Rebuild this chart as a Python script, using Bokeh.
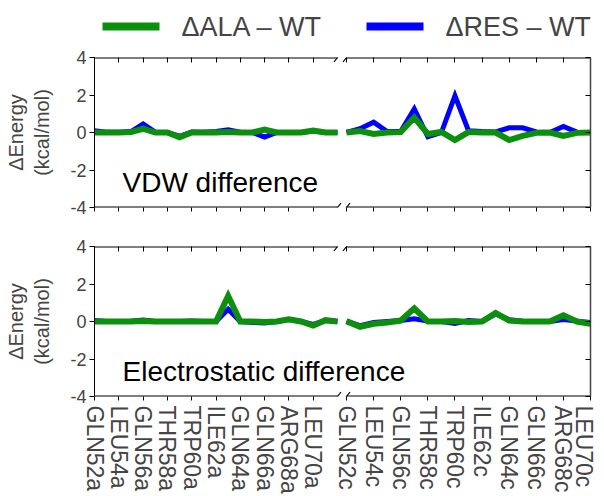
import math
from bokeh.plotting import figure
from bokeh.models import Range1d, LinearAxis, FixedTicker, Label
from bokeh.layouts import column
from bokeh.embed import file_html
from bokeh.resources import INLINE

# ---------------- data ----------------
res_a = list(range(52, 73))   # 52a .. 72a
res_c = list(range(52, 71))   # 52c .. 70c
tick_res = [52, 54, 56, 58, 60, 62, 64, 66, 68, 70]
tick_names = ["GLN52", "LEU54", "GLN56", "THR58", "TRP60",
              "ILE62", "GLN64", "GLN66", "ARG68", "LEU70"]

vdw_ala_a = [0, 0, 0, 0.02, 0.2, 0, 0, -0.25, 0, 0, 0, 0.02, 0, 0, 0.15, 0, 0, 0, 0.1, 0, 0]
vdw_res_a = [0.1, 0.02, 0.02, 0.05, 0.45, 0.02, 0, -0.2, 0.03, 0.02, 0.05, 0.15, 0.02, 0, -0.25, 0, 0, 0, 0.08, 0, 0]
vdw_ala_c = [0, 0.08, -0.08, 0, 0.02, 0.8, -0.08, 0.03, -0.4, 0.02, 0, 0, -0.4, -0.18, -0.02, 0, -0.18, -0.02, 0]
vdw_res_c = [0, 0.2, 0.55, 0.05, 0.05, 1.25, -0.23, 0, 1.96, 0.1, 0.05, 0.03, 0.25, 0.25, 0.03, 0, 0.32, 0.02, 0]

ele_ala_a = [0, 0, 0, 0, 0.02, 0, 0, 0, 0, 0, 0, 1.36, 0, 0, -0.03, 0, 0.12, 0, -0.22, 0.07, 0]
ele_res_a = [0.05, 0, 0, 0.02, 0.08, 0, 0, 0, 0.02, 0, 0, 0.65, 0, -0.05, -0.08, 0, 0.1, 0, -0.15, 0.05, 0]
ele_ala_c = [0.02, -0.28, -0.12, -0.05, 0.05, 0.7, 0, 0, 0.03, -0.02, 0, 0.45, 0.05, 0, 0, 0, 0.33, 0, -0.12]
ele_res_c = [0, -0.22, -0.05, 0, 0.05, 0.15, 0.02, 0, -0.1, 0.05, 0, 0.4, 0.1, 0.02, 0, 0, 0.1, 0.02, -0.05]

y_ticks = [-4, -2, 0, 2, 4]
y_tick_labels = ["-4", "-2", "0", "2", "4"]

series_names = ["ΔALA – WT", "ΔRES – WT"]

# ---------------- layout (broken x axis) ----------------
FONT = "Liberation Sans"
GREEN = "#0c8f0c"
BLUE = "#0000ff"
BORDER_L, BORDER_R = 94, 6
FIG_W = 596
FRAME_W = FIG_W - BORDER_L - BORDER_R       # 496
A_PX = (0, 243)      # pixel span of segment a (52a..72a) in the frame
C_PX = (252, 496)    # pixel span of segment c (52c..70c) in the frame
Y_PX = 18.75         # pixels per y unit (top panel frame 150 px / 8)

a_scale = (A_PX[1] - A_PX[0]) / (res_a[-1] - res_a[0])
a_start = res_a[0] - A_PX[0] / a_scale
a_end = a_start + FRAME_W / a_scale
c_scale = (C_PX[1] - C_PX[0]) / (res_c[-1] - res_c[0])
c_start = res_c[0] - C_PX[0] / c_scale
c_end = c_start + FRAME_W / c_scale


def c_to_a(r):
    return a_start + (r - c_start) * c_scale / a_scale


x_ticks = [float(r) for r in tick_res] + [c_to_a(r) for r in tick_res]
x_labels = [n + "a" for n in tick_names] + [n + "c" for n in tick_names]
overrides = {t: lab for t, lab in zip(x_ticks, x_labels)}
y_overrides = {t: lab for t, lab in zip(y_ticks, y_tick_labels)}


def hidden_label_axis(ticks, tick_in, tick_out, line_color=None, line_width=1):
    return LinearAxis(ticker=FixedTicker(ticks=ticks),
                      major_label_text_font_size="1px",
                      major_label_text_color=None,
                      major_label_standoff=0,
                      major_tick_out=tick_out, major_tick_in=tick_in,
                      axis_line_color=line_color, axis_line_width=line_width,
                      major_tick_line_color="black")


def make_panel(height, b_top, b_bottom, show_xlabels, ala_a, rs_a, ala_c, rs_c, note):
    p = figure(width=FIG_W, height=height,
               x_range=Range1d(a_start, a_end), y_range=Range1d(-4, 4),
               output_backend="svg", toolbar_location=None,
               x_axis_location=None, y_axis_location=None,
               min_border_left=BORDER_L, min_border_right=BORDER_R,
               min_border_top=b_top, min_border_bottom=b_bottom)
    p.extra_x_ranges = {"c": Range1d(c_start, c_end)}
    p.xgrid.visible = False
    p.ygrid.visible = False
    p.outline_line_color = None

    left = LinearAxis(ticker=FixedTicker(ticks=y_ticks),
                      major_label_overrides=y_overrides,
                      axis_label="ΔEnergy\n(kcal/mol)",
                      axis_label_text_font=FONT,
                      axis_label_text_font_size="20px",
                      axis_label_text_font_style="normal",
                      axis_label_standoff=14,
                      major_label_text_font=FONT,
                      major_label_text_font_size="18px",
                      major_tick_out=5, major_tick_in=0,
                      major_label_standoff=3,
                      axis_line_color="black", major_tick_line_color="black")
    p.add_layout(left, "left")
    p.add_layout(hidden_label_axis(y_ticks, 5, 0, "#444444", 1.5), "right")
    p.add_layout(hidden_label_axis(x_ticks, 5, 0), "above")

    if show_xlabels:
        bottom = LinearAxis(ticker=FixedTicker(ticks=x_ticks),
                            major_label_overrides=overrides,
                            major_label_orientation="vertical",
                            major_label_text_font=FONT,
                            major_label_text_font_size="23px",
                            major_tick_out=4, major_tick_in=0,
                            major_label_standoff=5,
                            axis_line_color=None, major_tick_line_color="black")
        p.add_layout(bottom, "below")
    else:
        p.add_layout(hidden_label_axis(x_ticks, 0, 4), "below")

    # broken top / bottom frame lines and the break slashes
    ylim = (-4, 4)
    p.segment(x0=[a_start, a_start], y0=list(ylim), x1=[res_a[-1]] * 2, y1=list(ylim),
              line_color="black", line_width=2)
    p.segment(x0=[res_c[0]] * 2, y0=list(ylim), x1=[c_end] * 2, y1=list(ylim),
              line_color="black", line_width=2, x_range_name="c")
    dy = 4.5 / Y_PX
    dxa, dxc = 3.5 / a_scale, 3.5 / c_scale
    p.segment(x0=[res_a[-1] - dxa] * 2, y0=[ylim[0] - dy, ylim[1] - dy],
              x1=[res_a[-1] + dxa] * 2, y1=[ylim[0] + dy, ylim[1] + dy],
              line_color="black", line_width=1.2)
    p.segment(x0=[res_c[0] - dxc] * 2, y0=[ylim[0] - dy, ylim[1] - dy],
              x1=[res_c[0] + dxc] * 2, y1=[ylim[0] + dy, ylim[1] + dy],
              line_color="black", line_width=1.2, x_range_name="c")

    # data lines
    p.line(res_a, rs_a, line_color=BLUE, line_width=5, line_join="miter")
    p.line(res_a, ala_a, line_color=GREEN, line_width=6, line_join="miter")
    p.line(res_c, rs_c, line_color=BLUE, line_width=5, line_join="miter", x_range_name="c")
    p.line(res_c, ala_c, line_color=GREEN, line_width=6, line_join="miter", x_range_name="c")

    # panel note
    p.add_layout(Label(x=a_start + 28 / a_scale, y=-2.65, text=note,
                       text_font=FONT, text_font_size="28px",
                       text_color="black", text_baseline="alphabetic"))
    return p


# legend strip (its frame is aligned with the panel frames; units = frame pixels)
LG_H = 45
lg = figure(width=FIG_W, height=LG_H, x_range=Range1d(0, FRAME_W), y_range=Range1d(0, LG_H),
            output_backend="svg", toolbar_location=None,
            x_axis_location=None, y_axis_location=None,
            min_border_left=BORDER_L, min_border_right=BORDER_R,
            min_border_top=0, min_border_bottom=0)
lg.xgrid.visible = False
lg.ygrid.visible = False
lg.outline_line_color = None
swatch_x0 = [8, 272]
swatch_len = 57
text_gap = 22
swatch_y = LG_H - 26
for x0, col, name in zip(swatch_x0, [GREEN, BLUE], series_names):
    lg.line([x0, x0 + swatch_len], [swatch_y, swatch_y], line_color=col, line_width=8)
    lg.add_layout(Label(x=x0 + swatch_len + text_gap, y=swatch_y, text=name,
                        text_font=FONT, text_font_size="27px",
                        text_align="left", text_baseline="middle"))

top_p = make_panel(185, 12, 23, False, vdw_ala_a, vdw_res_a, vdw_ala_c, vdw_res_c,
                   "VDW difference")
bot_p = make_panel(266, 16, 99, True, ele_ala_a, ele_res_a, ele_ala_c, ele_res_c,
                   "Electrostatic difference")

layout = column(lg, top_p, bot_p)
open("out.html", "w").write(file_html(layout, INLINE))
